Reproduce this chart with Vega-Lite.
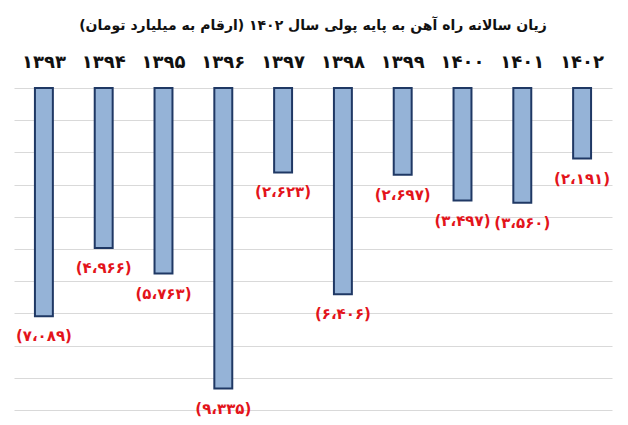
{
  "$schema": "https://vega.github.io/schema/vega-lite/v6.json",
  "width": 598,
  "height": 322,
  "autosize": {"type": "none"},
  "padding": {"left": 14, "top": 88, "right": 16, "bottom": 15},
  "background": "white",
  "title": {
    "text": "زیان سالانه راه آهن به پایه پولی سال ۱۴۰۲ (ارقام به میلیارد تومان)",
    "font": "DejaVu Sans",
    "fontSize": 14,
    "fontWeight": "bold",
    "color": "#111111",
    "anchor": "middle",
    "offset": 20
  },
  "config": {
    "view": {"stroke": null},
    "font": "DejaVu Sans"
  },
  "data": {
    "values": [
      {"year": "۱۳۹۳", "loss": -7089, "label": "(۷،۰۸۹)"},
      {"year": "۱۳۹۴", "loss": -4966, "label": "(۴،۹۶۶)"},
      {"year": "۱۳۹۵", "loss": -5763, "label": "(۵،۷۶۳)"},
      {"year": "۱۳۹۶", "loss": -9335, "label": "(۹،۳۳۵)"},
      {"year": "۱۳۹۷", "loss": -2623, "label": "(۲،۶۲۳)"},
      {"year": "۱۳۹۸", "loss": -6406, "label": "(۶،۴۰۶)"},
      {"year": "۱۳۹۹", "loss": -2697, "label": "(۲،۶۹۷)"},
      {"year": "۱۴۰۰", "loss": -3497, "label": "(۳،۴۹۷)"},
      {"year": "۱۴۰۱", "loss": -3560, "label": "(۳،۵۶۰)"},
      {"year": "۱۴۰۲", "loss": -2191, "label": "(۲،۱۹۱)"}
    ]
  },
  "encoding": {
    "x": {
      "field": "year",
      "type": "nominal",
      "sort": null,
      "scale": {"paddingInner": 0.7, "paddingOuter": 0.35},
      "axis": {
        "orient": "top",
        "title": null,
        "domain": false,
        "ticks": false,
        "labelAngle": 0,
        "labelFontSize": 18,
        "labelFontWeight": "bold",
        "labelColor": "#111111",
        "labelPadding": 17
      }
    },
    "y": {
      "field": "loss",
      "type": "quantitative",
      "scale": {"domain": [-10000, 0], "nice": false},
      "axis": {
        "title": null,
        "labels": false,
        "ticks": false,
        "domain": false,
        "values": [0, -1000, -2000, -3000, -4000, -5000, -6000, -7000, -8000, -9000, -10000],
        "gridColor": "#d9d9d9",
        "gridWidth": 1
      }
    }
  },
  "layer": [
    {
      "mark": {"type": "bar", "fill": "#95b3d7", "stroke": "#1f3864", "strokeWidth": 2}
    },
    {
      "mark": {
        "type": "text",
        "baseline": "top",
        "dy": 13,
        "fontSize": 15,
        "fontWeight": "bold",
        "color": "#e3141b"
      },
      "encoding": {"text": {"field": "label"}}
    }
  ]
}
